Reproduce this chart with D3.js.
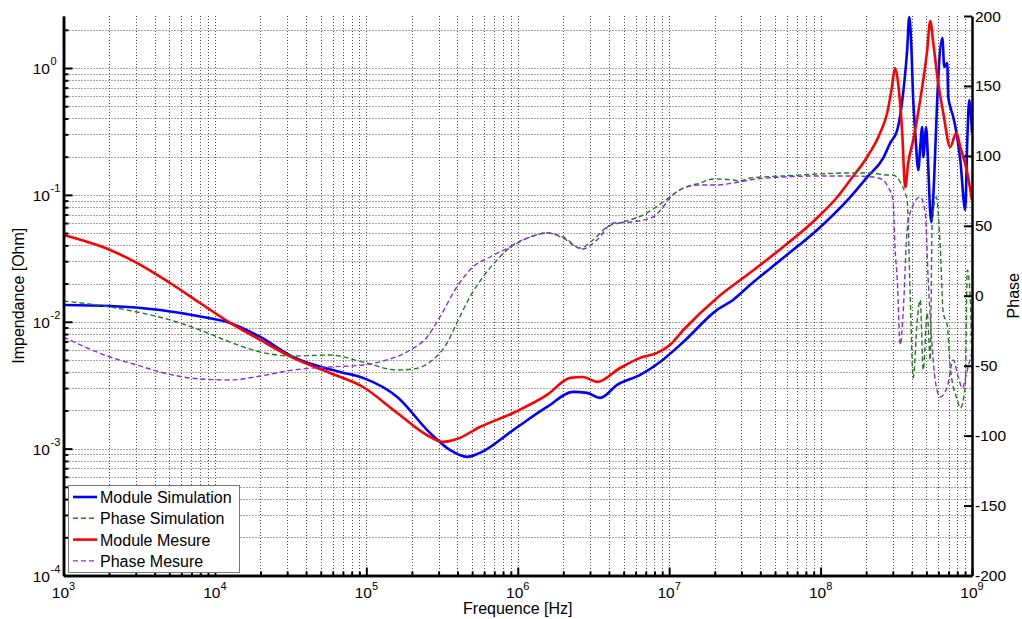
<!DOCTYPE html>
<html><head><meta charset="utf-8">
<script src="https://cdn.jsdelivr.net/npm/d3@7"></script>
<style>
html,body{margin:0;padding:0;background:#fff;}
svg{display:block;font-family:"Liberation Sans",Arial,sans-serif;}
</style></head><body>
<svg id="chart" width="1022" height="619"></svg>
<script>
// ---------------- DATA ----------------
const seriesNames = ["Module Simulation", "Phase Simulation", "Module Mesure", "Phase Mesure"];

// Module Simulation (Ohm)
const simModFreq = [1e3, 2.03e3, 4.34e3, 8.34e3, 1.26e4, 1.99e4, 3.28e4, 6.70e4, 9.51e4, 1.60e5, 2.63e5, 3.56e5, 4.62e5, 5.62e5, 9.31e5, 1.56e6, 2.32e6, 2.87e6, 3.50e6, 4.53e6, 6.43e6, 8.71e6, 1.24e7, 2.07e7, 2.64e7, 3.42e7, 5.65e7, 9.48e7, 1.57e8, 2.03e8, 2.59e8, 2.88e8, 3.21e8, 3.51e8, 3.73e8, 3.85e8, 3.96e8, 4.09e8, 4.22e8, 4.42e8, 4.55e8, 4.69e8, 4.76e8, 4.99e8, 5.06e8, 5.38e8, 5.62e8, 5.89e8, 6.37e8, 6.56e8, 6.86e8, 6.97e8, 7.29e8, 7.52e8, 8.37e8, 9.02e8, 9.31e8, 9.59e8, 1e9];
const simModule = [0.01355, 0.01332, 0.01239, 0.01091, 0.00979, 0.00759, 0.00528, 0.00402, 0.00361, 0.00255, 0.00133, 0.000977, 0.000861, 0.000925, 0.00140, 0.00213, 0.00280, 0.00275, 0.00251, 0.00318, 0.00381, 0.00482, 0.00693, 0.0124, 0.01486, 0.0195, 0.0318, 0.0529, 0.0962, 0.138, 0.195, 0.256, 0.325, 0.635, 1.386, 2.52, 1.66, 0.560, 0.308, 0.157, 0.239, 0.343, 0.199, 0.343, 0.256, 0.0611, 0.131, 0.560, 1.72, 1.02, 1.094, 0.591, 0.467, 0.411, 0.188, 0.076, 0.271, 0.560, 0.308];

// Module Mesure (Ohm)
const mesModFreq = [1e3, 2.03e3, 3.05e3, 5.05e3, 7.98e3, 1.26e4, 1.99e4, 3.28e4, 5.75e4, 9.51e4, 1.60e5, 2.63e5, 3.21e5, 3.96e5, 5.62e5, 9.31e5, 1.56e6, 2.22e6, 2.70e6, 3.34e6, 4.74e6, 6.43e6, 8.32e6, 1.01e7, 1.24e7, 2.07e7, 3.42e7, 5.65e7, 9.48e7, 1.29e8, 1.57e8, 2.03e8, 2.48e8, 2.75e8, 2.96e8, 3.10e8, 3.25e8, 3.46e8, 3.62e8, 3.79e8, 4.09e8, 4.55e8, 5.06e8, 5.30e8, 5.55e8, 5.98e8, 6.46e8, 7.18e8, 7.87e8, 8.37e8, 9.31e8, 1e9];
const mesModule = [0.0483, 0.0368, 0.0291, 0.0202, 0.01406, 0.00979, 0.00719, 0.00519, 0.00395, 0.00306, 0.00191, 0.00124, 0.00113, 0.00119, 0.00148, 0.00191, 0.00265, 0.00361, 0.00367, 0.00336, 0.00432, 0.00519, 0.00568, 0.00656, 0.00861, 0.01541, 0.0243, 0.0388, 0.0658, 0.0962, 0.131, 0.199, 0.31, 0.44, 0.708, 1.0, 0.762, 0.308, 0.115, 0.178, 0.271, 0.560, 1.386, 2.35, 1.57, 0.762, 0.442, 0.239, 0.308, 0.239, 0.149, 0.0912];

// Phase Simulation (deg)
const simPhaseFreq = [1e3, 2.03e3, 3.05e3, 5.05e3, 7.98e3, 1.26e4, 1.99e4, 3.28e4, 5.75e4, 9.51e4, 1.60e5, 2.03e5, 2.63e5, 3.41e5, 3.96e5, 4.83e5, 5.89e5, 7.29e5, 9.31e5, 1.21e6, 1.56e6, 1.99e6, 2.58e6, 3.14e6, 3.89e6, 4.97e6, 6.73e6, 9.12e6, 1.01e7, 1.24e7, 1.60e7, 1.95e7, 2.64e7, 2.94e7, 3.42e7, 5.65e7, 9.48e7, 1.57e8, 2.12e8, 2.75e8, 3.01e8, 3.36e8, 3.62e8, 3.73e8, 3.91e8, 4.09e8, 4.35e8, 4.55e8, 4.76e8, 5.06e8, 5.30e8, 5.46e8, 5.81e8, 6.17e8, 6.46e8, 6.86e8, 7.18e8, 8.00e8, 8.37e8, 9.02e8, 9.31e8, 9.75e8, 1e9];
const simPhase = [-3.8, -8.0, -11.6, -17.3, -24.5, -33.1, -40.2, -43.1, -42.4, -47.4, -53.1, -52.4, -47.4, -33.8, -19.5, -0.9, 13.4, 25.6, 36.3, 42.0, 44.9, 41.3, 34.1, 39.9, 49.2, 52.7, 57.7, 67.0, 70.6, 77.0, 80.6, 83.5, 82.8, 82.0, 84.2, 85.6, 87.0, 87.8, 87.8, 86.3, 86.3, 81.3, 73.5, 68.5, -0.9, -58.8, -17.3, -3.0, -53.1, -12.3, -45.9, 52.0, 70.6, 34.9, -12.3, -20.9, -50.9, -74.5, -80.3, -65.2, 18.4, -3.0, -53.1];

// Phase Mesure (deg)
const mesPhaseFreq = [1e3, 2.03e3, 3.05e3, 4.34e3, 7.98e3, 1.26e4, 1.99e4, 3.28e4, 5.75e4, 9.51e4, 1.37e5, 1.95e5, 2.52e5, 3.06e5, 3.96e5, 5.06e5, 6.56e5, 8.89e5, 1.21e6, 1.56e6, 1.99e6, 2.66e6, 3.34e6, 4.26e6, 5.52e6, 7.83e6, 9.12e6, 1.01e7, 1.24e7, 1.60e7, 2.07e7, 2.64e7, 3.42e7, 5.65e7, 9.48e7, 1.57e8, 2.22e8, 2.59e8, 2.79e8, 3.01e8, 3.10e8, 3.21e8, 3.36e8, 3.51e8, 3.73e8, 4.03e8, 4.55e8, 4.91e8, 5.14e8, 5.46e8, 5.71e8, 6.17e8, 6.86e8, 7.52e8, 8.11e8, 8.63e8, 9.31e8, 1e9];
const mesPhase = [-29.5, -43.8, -49.5, -54.5, -59.5, -60.2, -57.4, -53.1, -50.9, -49.5, -45.9, -38.8, -29.5, -15.2, 6.3, 20.6, 27.7, 34.9, 42.0, 44.9, 42.0, 33.4, 39.9, 52.0, 52.7, 56.3, 63.5, 69.9, 77.0, 79.2, 79.2, 80.6, 82.8, 84.9, 85.6, 85.6, 84.9, 82.8, 77.7, 68.5, 34.9, 11.3, -35.2, -12.3, 47.0, 63.5, 70.6, 59.2, 11.3, -36.6, -60.2, -72.4, -65.2, -45.9, -58.1, -66.0, -53.1, -40.2];

// Axis ranges / ticks
const freqDomain = [1e3, 1e9];
const impedanceDomain = [1e-4, 2.57];
const phaseDomain = [-200, 200];
const freqExponents = [3, 4, 5, 6, 7, 8, 9];
const impedanceExponents = [-4, -3, -2, -1, 0];
const phaseTicks = [-200, -150, -100, -50, 0, 50, 100, 150, 200];

// ---------------- LAYOUT ----------------
const M = {left: 63.5, right: 972, top: 16, bottom: 575.5};
const svg = d3.select("#chart");
const x = d3.scaleLog().domain(freqDomain).range([M.left, M.right]);
const yL = d3.scaleLog().domain(impedanceDomain).range([M.bottom, M.top]);
const yR = d3.scaleLinear().domain(phaseDomain).range([M.bottom, M.top]);

const xAll = [];
freqExponents.forEach(e => { for (let k = 1; k <= 9; k++) { const v = k * Math.pow(10, e); if (v <= freqDomain[1]) xAll.push(v); } });
const yAll = [];
impedanceExponents.forEach(e => { for (let k = 1; k <= 9; k++) { const v = k * Math.pow(10, e); if (v <= impedanceDomain[1]) yAll.push(v); } });
const xMajor = freqExponents.map(e => Math.pow(10, e));
const yMajor = impedanceExponents.map(e => Math.pow(10, e));

// grid
const grid = svg.append("g").attr("stroke", "#555").attr("stroke-width", 1).attr("stroke-dasharray", "1,2");
grid.selectAll("line.gx").data(xAll.filter(v => v > freqDomain[0] && v < freqDomain[1])).join("line")
  .attr("x1", d => Math.round(x(d)) + 0.5).attr("x2", d => Math.round(x(d)) + 0.5)
  .attr("y1", M.top).attr("y2", M.bottom);
grid.selectAll("line.gy").data(yAll.filter(v => v > impedanceDomain[0])).join("line")
  .attr("y1", d => Math.round(yL(d)) + 0.5).attr("y2", d => Math.round(yL(d)) + 0.5)
  .attr("x1", M.left).attr("x2", M.right);

// curves
svg.append("clipPath").attr("id", "clip").append("rect")
  .attr("x", M.left).attr("y", M.top - 2).attr("width", M.right - M.left).attr("height", M.bottom - M.top + 2);
const plot = svg.append("g").attr("clip-path", "url(#clip)");

const lineL = d3.line().x(d => x(d[0])).y(d => yL(d[1])).curve(d3.curveMonotoneX);
const lineR = d3.line().x(d => x(d[0])).y(d => yR(d[1])).curve(d3.curveMonotoneX);
const zip = (a, b) => a.map((v, i) => [v, b[i]]);

const styles = [
  {color: "#0000ff", width: 2.6, dash: null},
  {color: "#1f7f1f", width: 1.4, dash: "5,3"},
  {color: "#ff0000", width: 2.6, dash: null},
  {color: "#8a2be2", width: 1.4, dash: "5,3"}
];

plot.append("path").attr("d", lineL(zip(simModFreq, simModule)))
  .attr("fill", "none").attr("stroke", styles[0].color).attr("stroke-width", styles[0].width);
plot.append("path").attr("d", lineL(zip(mesModFreq, mesModule)))
  .attr("fill", "none").attr("stroke", styles[2].color).attr("stroke-width", styles[2].width);
plot.append("path").attr("d", lineR(zip(simPhaseFreq, simPhase)))
  .attr("fill", "none").attr("stroke", styles[1].color).attr("stroke-width", styles[1].width).attr("stroke-dasharray", styles[1].dash);
plot.append("path").attr("d", lineR(zip(mesPhaseFreq, mesPhase)))
  .attr("fill", "none").attr("stroke", styles[3].color).attr("stroke-width", styles[3].width).attr("stroke-dasharray", styles[3].dash);

// axes
function styleAxis(g) {
  g.selectAll("path.domain").attr("stroke", "#000").attr("stroke-width", 2.5);
  g.selectAll(".tick line").attr("stroke", "#000").attr("stroke-width", 2);
  g.selectAll(".tick text").remove();
}
svg.append("g").attr("transform", `translate(${M.left},0)`)
  .call(d3.axisLeft(yL).tickValues(yAll.filter(v => !yMajor.includes(v))).tickSizeInner(-5).tickSizeOuter(0).tickFormat(""))
  .call(styleAxis);
svg.append("g").attr("transform", `translate(${M.left},0)`)
  .call(d3.axisLeft(yL).tickValues(yMajor).tickSizeInner(-9).tickSizeOuter(0).tickFormat(""))
  .call(styleAxis);
svg.append("g").attr("transform", `translate(0,${M.bottom})`)
  .call(d3.axisBottom(x).tickValues(xAll.filter(v => !xMajor.includes(v))).tickSizeInner(-4).tickSizeOuter(0).tickFormat(""))
  .call(styleAxis);
svg.append("g").attr("transform", `translate(0,${M.bottom})`)
  .call(d3.axisBottom(x).tickValues(xMajor).tickSizeInner(-8).tickSizeOuter(0).tickFormat(""))
  .call(styleAxis);
svg.append("g").attr("transform", `translate(${M.right},0)`)
  .call(d3.axisRight(yR).tickValues(phaseTicks).tickSizeInner(-8).tickSizeOuter(0).tickFormat(""))
  .call(styleAxis);

// tick labels
const lab = svg.append("g").attr("fill", "#000");
impedanceExponents.forEach(e => {
  const yy = yL(Math.pow(10, e));
  lab.append("text").attr("x", 50).attr("y", yy + 6).attr("text-anchor", "end").attr("font-size", 15.5).text("10");
  lab.append("text").attr("x", 50.5).attr("y", yy - 3).attr("text-anchor", "start").attr("font-size", 11).text(String(e));
});
freqExponents.forEach(e => {
  const xx = x(Math.pow(10, e));
  const t = lab.append("text").attr("x", xx).attr("y", 598).attr("text-anchor", "middle").attr("font-size", 15.5);
  t.append("tspan").text("10");
  t.append("tspan").attr("font-size", 11).attr("dy", -8).text(String(e));
});
phaseTicks.forEach(p => {
  lab.append("text").attr("x", 975).attr("y", yR(p) + 5.5).attr("text-anchor", "start").attr("font-size", 15.5).text(String(p));
});

// axis titles
svg.append("text").attr("x", (M.left + M.right) / 2).attr("y", 614).attr("text-anchor", "middle").attr("font-size", 16).text("Frequence [Hz]");
svg.append("text").attr("transform", `translate(24,${(M.top + M.bottom) / 2}) rotate(-90)`).attr("text-anchor", "middle").attr("font-size", 16).text("Impendance [Ohm]");
svg.append("text").attr("transform", `translate(1019,${(M.top + M.bottom) / 2}) rotate(-90)`).attr("text-anchor", "middle").attr("font-size", 16).text("Phase");

// legend
const lg = svg.append("g");
lg.append("rect").attr("x", 68.5).attr("y", 485.5).attr("width", 171).attr("height", 87)
  .attr("fill", "#fff").attr("stroke", "#777").attr("stroke-width", 1);
seriesNames.forEach((name, i) => {
  const yy = 497 + i * 21.3;
  const s = styles[i];
  lg.append("line").attr("x1", 73).attr("x2", 97).attr("y1", yy).attr("y2", yy)
    .attr("stroke", s.color).attr("stroke-width", s.width).attr("stroke-dasharray", s.dash);
  lg.append("text").attr("x", 100).attr("y", yy + 6).attr("font-size", 16).text(name);
});
</script>
</body></html>
